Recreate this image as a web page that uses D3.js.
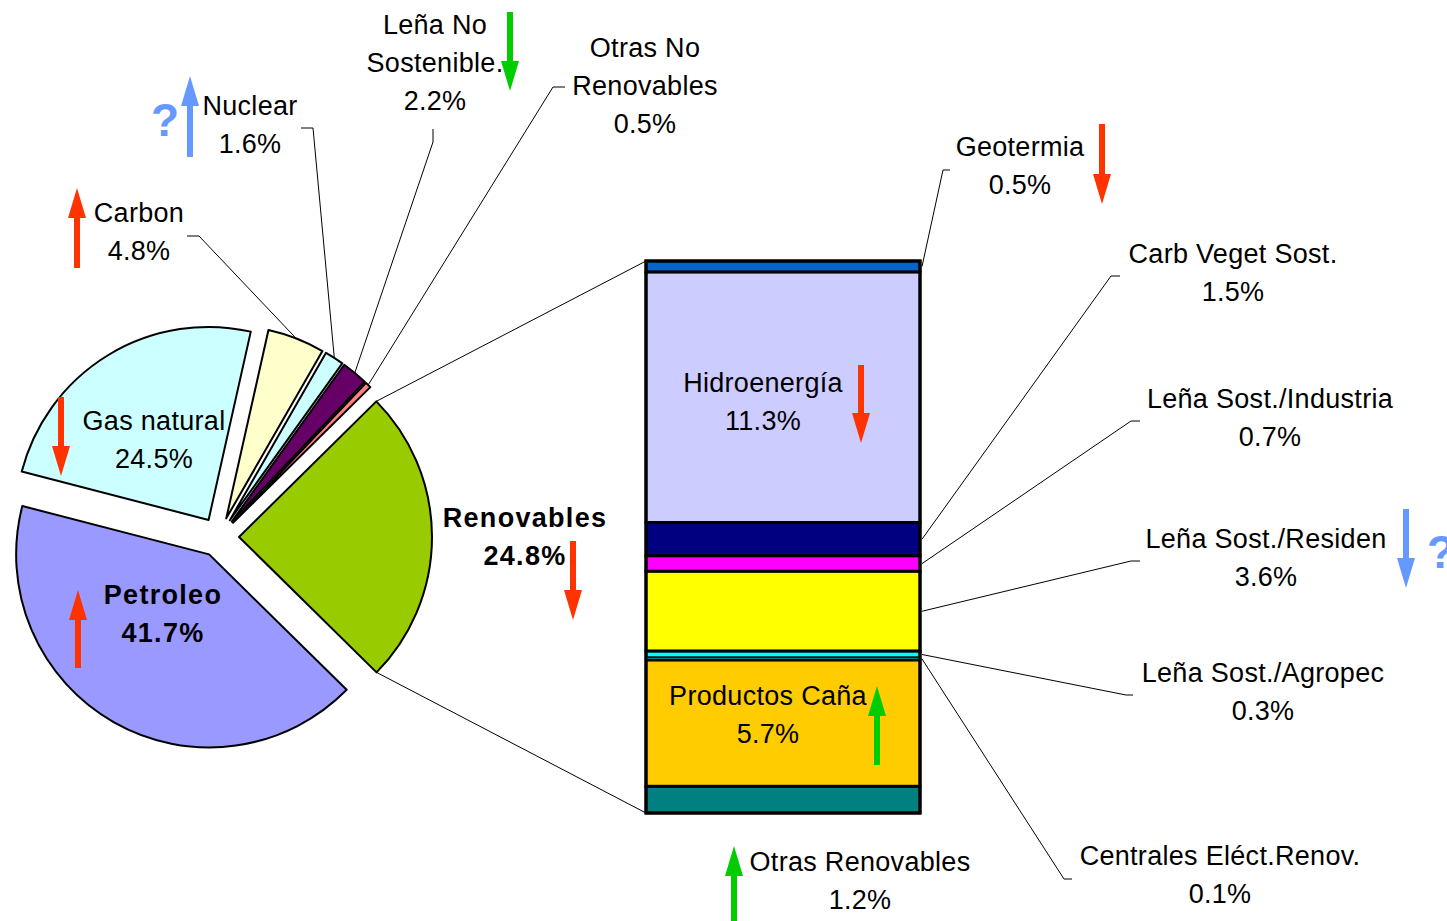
<!DOCTYPE html>
<html>
<head>
<meta charset="utf-8">
<script src="https://cdn.jsdelivr.net/npm/d3@7"></script>
<style>
  body { margin: 0; background: #fff; }
  text { font-family: "Liberation Sans", Arial, sans-serif; }
</style>
</head>
<body>
<script>
'use strict';

// pie data (clockwise, starting with the exploded "other" slice)
const pieNames = ['Renovables', 'Petroleo', 'Gas natural', 'Carbon', 'Nuclear', 'Leña No Sostenible.', 'Otras No Renovables'];
const pieValues = [24.8, 41.7, 24.5, 4.8, 1.6, 2.2, 0.5];
const pieColors = ['#99CC00', '#9999FF', '#CCFFFF', '#FFFFCC', '#CCFFFF', '#660066', '#FF8080'];

// bar data (top to bottom)
const barNames = ['Geotermia', 'Hidroenergía', 'Carb Veget Sost.', 'Leña Sost./Industria', 'Leña Sost./Residen',
  'Leña Sost./Agropec', 'Centrales Eléct.Renov.', 'Productos Caña', 'Otras Renovables'];
const barValues = [0.5, 11.3, 1.5, 0.7, 3.6, 0.3, 0.1, 5.7, 1.2];
const barColors = ['#0066CC', '#CCCCFF', '#000080', '#FF00FF', '#FFFF00', '#00FFFF', '#00FFFF', '#FFCC00', '#008080'];

// trend markers
const trendNames = ['Petroleo', 'Gas natural', 'Carbon', 'Nuclear', 'Leña No Sostenible.', 'Renovables',
  'Geotermia', 'Hidroenergía', 'Leña Sost./Residen', 'Productos Caña', 'Otras Renovables'];
const trendDirs = ['up', 'down', 'up', 'up', 'down', 'down', 'down', 'down', 'down', 'up', 'up'];
const trendKinds = ['bad', 'bad', 'bad', 'unsure', 'good', 'bad', 'bad', 'bad', 'unsure', 'good', 'good'];

const width = 1447, height = 921;
const cx = 219, cy = 537, radius = 193, explode = 20;
const bar = { x0: 646, x1: 920, y0: 261, y1: 813 };
const trendColor = { bad: '#FF3300', good: '#00CC00', unsure: '#6699FF' };

// label layout: center x, center y of first line, leader elbow points
const labelLayout = {
  'Petroleo': { x: 163, y: 595, bold: true },
  'Gas natural': { x: 154, y: 421 },
  'Carbon': { x: 139, y: 213, elbow: [[187, 236], [199, 236]] },
  'Nuclear': { x: 250, y: 106, elbow: [[301, 128], [313, 128]] },
  'Leña No Sostenible.': { x: 435, y: 25, lines: ['Leña No', 'Sostenible.'], elbow: [[433, 129], [433, 142]] },
  'Otras No Renovables': { x: 645, y: 48, lines: ['Otras No', 'Renovables'], elbow: [[565, 87], [553, 87]] },
  'Renovables': { x: 525, y: 518, bold: true },
  'Geotermia': { x: 1020, y: 147, elbow: [[950, 170], [943, 170]] },
  'Hidroenergía': { x: 763, y: 383 },
  'Carb Veget Sost.': { x: 1233, y: 254, elbow: [[1120, 276], [1111, 276]] },
  'Leña Sost./Industria': { x: 1270, y: 399, elbow: [[1140, 421], [1131, 421]] },
  'Leña Sost./Residen': { x: 1266, y: 539, elbow: [[1140, 561], [1131, 561]] },
  'Leña Sost./Agropec': { x: 1263, y: 673, elbow: [[1133, 695], [1126, 695]] },
  'Centrales Eléct.Renov.': { x: 1220, y: 856, elbow: [[1072, 879], [1064, 879]] },
  'Productos Caña': { x: 768, y: 696 },
  'Otras Renovables': { x: 860, y: 862 }
};
// arrow layout: [x, top y, bottom y]
const arrowLayout = {
  'Petroleo': [78, 590, 668], 'Gas natural': [61, 397, 476], 'Carbon': [77, 188, 268],
  'Nuclear': [190, 76, 157], 'Leña No Sostenible.': [510, 12, 91], 'Renovables': [573, 541, 620],
  'Geotermia': [1102, 124, 204], 'Hidroenergía': [861, 365, 443], 'Leña Sost./Residen': [1406, 509, 588],
  'Productos Caña': [877, 686, 765], 'Otras Renovables': [734, 846, 921]
};
const questionMarks = [[165, 120], [1441, 552]];

const svg = d3.select('body').append('svg')
  .attr('width', width)
  .attr('height', height);

// ---------- pie ----------
const startA = Math.PI / 2 - pieValues[0] / 100 * Math.PI;
const pie = d3.pie().sort(null).startAngle(startA).endAngle(startA + 2 * Math.PI);
const arcs = pie(pieValues);
const arc = d3.arc().innerRadius(0).outerRadius(radius);

function sliceOffset(d) {
  let mid = (d.startAngle + d.endAngle) / 2;
  return [cx + explode * Math.sin(mid), cy - explode * Math.cos(mid)];
}
function slicePoint(d, a) {
  let o = sliceOffset(d);
  return [o[0] + radius * Math.sin(a), o[1] - radius * Math.cos(a)];
}

svg.selectAll('.slice')
  .data(arcs)
  .enter()
  .append('path')
  .attr('class', 'slice')
  .attr('transform', d => 'translate(' + sliceOffset(d) + ')')
  .attr('d', arc)
  .attr('fill', (d, i) => pieColors[i])
  .attr('stroke', '#000')
  .attr('stroke-width', 2)
  .attr('stroke-linejoin', 'round');

// ---------- bar ----------
const total = d3.sum(barValues);
const yScale = d3.scaleLinear().domain([0, total]).range([bar.y0, bar.y1]);
const cum = d3.cumsum(barValues);
const segs = barValues.map((v, i) => ({ name: barNames[i], v: v, a: cum[i] - v, b: cum[i], color: barColors[i] }));

svg.selectAll('.seg')
  .data(segs)
  .enter()
  .append('rect')
  .attr('class', 'seg')
  .attr('x', bar.x0)
  .attr('width', bar.x1 - bar.x0)
  .attr('y', d => yScale(d.a))
  .attr('height', d => yScale(d.b) - yScale(d.a))
  .attr('fill', d => d.color)
  .attr('stroke', '#000')
  .attr('stroke-width', d => d.v < 0.2 ? 0.5 : 3);

svg.append('rect')
  .attr('x', bar.x0).attr('y', bar.y0)
  .attr('width', bar.x1 - bar.x0).attr('height', bar.y1 - bar.y0)
  .attr('fill', 'none').attr('stroke', '#000').attr('stroke-width', 3);

// connectors pie -> bar
const ren = arcs[0];
const pTop = slicePoint(ren, ren.startAngle);
const pBot = slicePoint(ren, ren.endAngle);
svg.append('line').attr('x1', pTop[0]).attr('y1', pTop[1]).attr('x2', bar.x0).attr('y2', bar.y0)
  .attr('stroke', '#000').attr('stroke-width', 1);
svg.append('line').attr('x1', pBot[0]).attr('y1', pBot[1]).attr('x2', bar.x0).attr('y2', bar.y1)
  .attr('stroke', '#000').attr('stroke-width', 1);

// ---------- labels ----------
function anchorFor(name) {
  let i = pieNames.indexOf(name);
  if (i >= 0) {
    let d = arcs[i];
    return slicePoint(d, (d.startAngle + d.endAngle) / 2);
  }
  let s = segs[barNames.indexOf(name)];
  return [bar.x1 + 2, yScale((s.a + s.b) / 2)];
}
function valueFor(name) {
  let i = pieNames.indexOf(name);
  return i >= 0 ? pieValues[i] : barValues[barNames.indexOf(name)];
}

Object.keys(labelLayout).forEach(name => {
  let L = labelLayout[name];
  if (L.elbow) {
    let pts = L.elbow.concat([anchorFor(name)]);
    svg.append('path')
      .attr('d', d3.line()(pts))
      .attr('fill', 'none')
      .attr('stroke', '#000')
      .attr('stroke-width', 1);
  }
  let lines = (L.lines || [name]).concat([valueFor(name).toFixed(1) + '%']);
  let t = svg.append('text')
    .attr('text-anchor', 'middle')
    .style('font-size', '27px')
    .style('font-weight', L.bold ? 'bold' : 'normal')
    .style('letter-spacing', L.bold ? '1.3px' : '0.3px')
    .attr('fill', '#000');
  lines.forEach((s, k) => {
    t.append('tspan').attr('x', L.x).attr('y', L.y + 9 + k * 38).text(s);
  });
});

// ---------- trend arrows ----------
trendNames.forEach((name, i) => {
  let a = arrowLayout[name];
  let x = a[0], top = a[1], bot = a[2];
  let hw = 9, sw = 3, hl = 30;
  let p;
  if (trendDirs[i] === 'up') {
    p = [[x, top], [x + hw, top + hl], [x + sw, top + hl], [x + sw, bot], [x - sw, bot], [x - sw, top + hl], [x - hw, top + hl]];
  } else {
    p = [[x, bot], [x + hw, bot - hl], [x + sw, bot - hl], [x + sw, top], [x - sw, top], [x - sw, bot - hl], [x - hw, bot - hl]];
  }
  svg.append('path')
    .attr('d', d3.line()(p) + 'Z')
    .attr('fill', trendColor[trendKinds[i]]);
});

questionMarks.forEach(q => {
  svg.append('text')
    .attr('x', q[0]).attr('y', q[1] + 16)
    .attr('text-anchor', 'middle')
    .style('font-size', '46px')
    .style('font-weight', 'bold')
    .attr('fill', '#6699FF')
    .text('?');
});
</script>
</body>
</html>
